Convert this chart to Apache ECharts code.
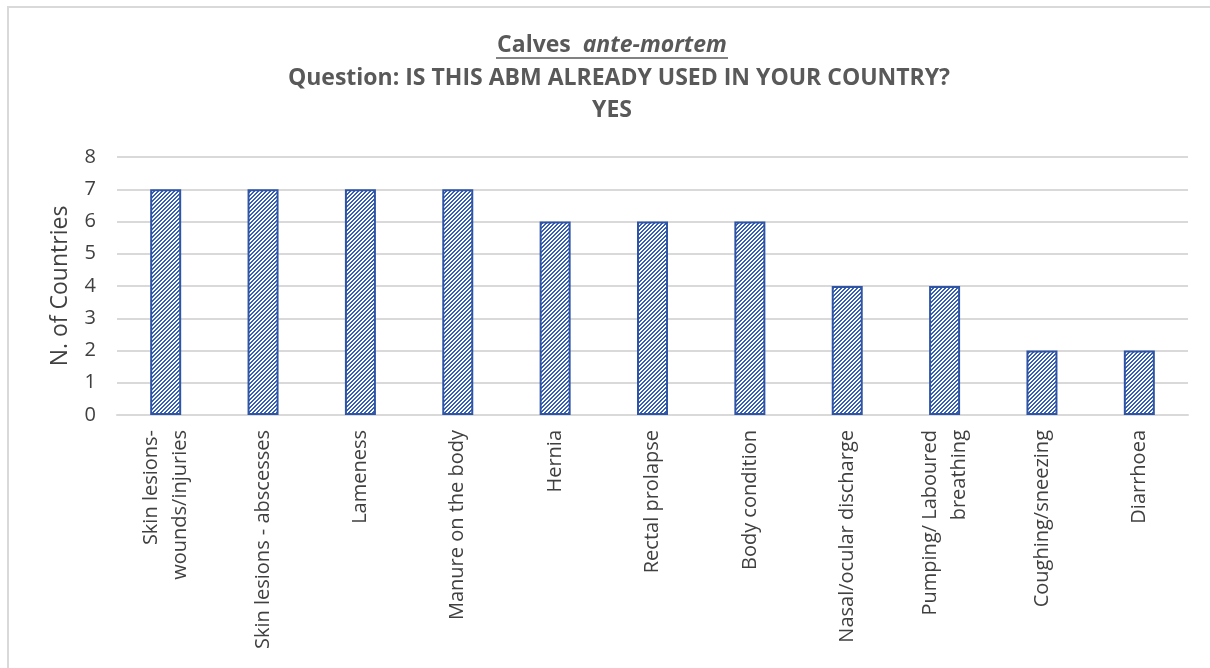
<!DOCTYPE html>
<html><head><meta charset="utf-8">
<script src="https://cdn.jsdelivr.net/npm/echarts@6/dist/echarts.min.js"></script>
<style>html,body{margin:0;padding:0;background:#fff}#c{width:1210px;height:668px}</style>
</head><body><div id="c"></div>
<script>
const categories = ["Skin lesions-\nwounds/injuries","Skin lesions - abscesses","Lameness","Manure on the body","Hernia","Rectal prolapse","Body condition","Nasal/ocular discharge","Pumping/ Laboured\nbreathing","Coughing/sneezing","Diarrhoea"];
const values = [7,7,7,7,6,6,6,4,4,2,2];
const yTicks = [0,1,2,3,4,5,6,7,8];

const cv = document.createElement('canvas');
cv.width = 8; cv.height = 8;
const g = cv.getContext('2d');
g.fillStyle = '#ffffff'; g.fillRect(0,0,8,8);
g.fillStyle = '#3560b5';
for (let x=0;x<8;x++) for (let y=0;y<8;y++) { const m=(x+y)%4; if (m===0||m===1) g.fillRect(x,y,1,1); }

const chart = echarts.init(document.getElementById('c'));
const FONT = '"Open Sans", Lato, sans-serif';
const TC = '#595959';
chart.setOption({
  animation:false,
  backgroundColor:'#fff',
  graphic:[
    {type:'rect', shape:{x:8,y:7,width:1220,height:700}, style:{fill:'none',stroke:'#d9d9d9',lineWidth:2}, silent:true},
    {type:'text', x:612, y:45, style:{text:'{a|Calves  }{b|ante-mortem}', align:'center', verticalAlign:'middle', rich:{a:{fontSize:23,fontWeight:'bold',fontFamily:FONT,fill:TC},b:{fontSize:23,fontWeight:'bold',fontStyle:'italic',fontFamily:FONT,fill:TC}}}},
    {type:'line', shape:{x1:496,y1:58,x2:728,y2:58}, style:{stroke:TC,lineWidth:1.5}},
    {type:'text', x:619, y:78, style:{text:'Question: IS THIS ABM ALREADY USED IN YOUR COUNTRY?',align:'center',verticalAlign:'middle',fontSize:23,fontWeight:'bold',fontFamily:FONT,fill:TC}},
    {type:'text', x:612, y:110, style:{text:'YES',align:'center',verticalAlign:'middle',fontSize:23,fontWeight:'bold',fontFamily:FONT,fill:TC}}
  ],
  grid:{left:117,right:22,top:157,bottom:253,containLabel:false},
  xAxis:{type:'category',data:categories,
    axisLine:{lineStyle:{color:'#d9d9d9',width:2}},axisTick:{show:false},
    axisLabel:{interval:0,rotate:90,margin:15,fontSize:20,fontFamily:FONT,color:'#404040',lineHeight:29}},
  yAxis:{type:'value',min:0,max:8,interval:1,
    name:'N. of Countries',nameLocation:'middle',nameGap:45,nameRotate:90,
    nameTextStyle:{fontSize:23,fontFamily:FONT,color:'#404040'},
    axisLine:{show:false},axisTick:{show:false},
    axisLabel:{fontSize:20,fontFamily:FONT,color:'#404040',margin:21,formatter:v=>yTicks.includes(v)?String(v):''},
    splitLine:{lineStyle:{color:'#d9d9d9',width:2}}},
  series:[{type:'bar',data:values,barWidth:31,
    itemStyle:{color:{image:cv,repeat:'repeat'},borderColor:'#2f55a4',borderWidth:2}}]
});
</script></body></html>
